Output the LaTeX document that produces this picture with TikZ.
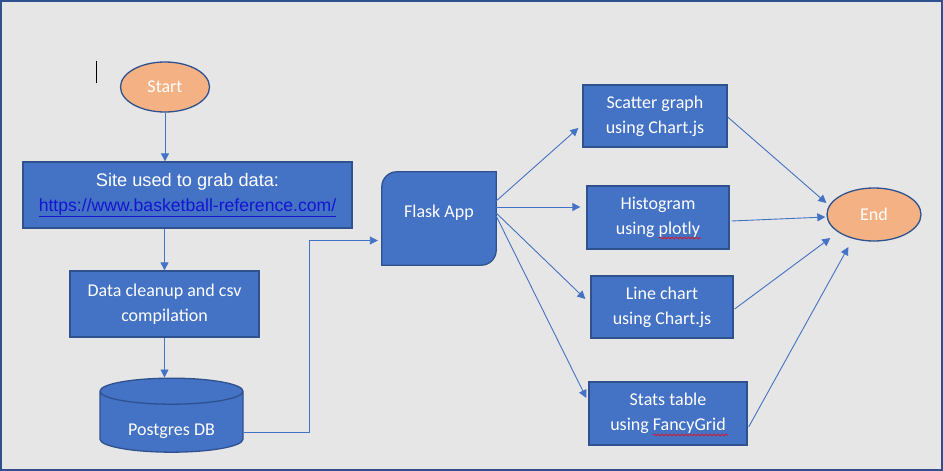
\documentclass[tikz,border=0pt]{standalone}
\usepackage{fontspec}
\setmainfont{Carlito}
\newfontfamily\arialfont{Liberation Sans}
\usetikzlibrary{shapes.geometric,arrows.meta,decorations.pathmorphing}

\definecolor{boxblue}{HTML}{4472C4}
\definecolor{darkblue}{HTML}{2F528F}
\definecolor{termorange}{HTML}{F4B183}
\definecolor{paper}{HTML}{E6E6E6}
\definecolor{linkblue}{RGB}{20,20,210}

\begin{document}
\begin{tikzpicture}[x=1pt,y=-1pt,>={Triangle[length=8pt,width=8pt]}]
	\tikzstyle{box}=[rectangle,draw=darkblue,line width=1.3pt,fill=boxblue,text=white,align=center,inner sep=0pt,font=\fontsize{18}{25}\selectfont]
	\tikzstyle{term}=[ellipse,draw=darkblue,line width=1.3pt,fill=termorange,text=white,inner sep=0pt,font=\fontsize{18}{22}\selectfont]
	\tikzstyle{edge}=[draw=boxblue, line width=0.9pt]
	\tikzstyle{squig}=[draw=red,line width=0.6pt,decorate,decoration={snake,amplitude=1pt,segment length=4pt}]

	\useasboundingbox (0,0) rectangle (943,471);
	\draw[darkblue,line width=2pt,fill=paper] (1,1) rectangle (942,470);
	\draw[black,line width=1pt] (96,61) -- (96,83);

	 \node [term,minimum width=89,minimum height=50] (start) at (165,87) {Start};
	 \node [box,minimum width=329,minimum height=66] (site) at (187.5,195) {{\arialfont\fontsize{18.2}{23}\selectfont Site used to grab data:}\\{\arialfont\fontsize{17.6}{23}\selectfont\color{linkblue}\underline{https://www.basketball-reference.com/}}};
	 \node [box,minimum width=189,minimum height=66] (clean) at (164.5,304) {Data cleanup and csv\\compilation};
	 \node [cylinder,shape border rotate=90,aspect=0.3,draw=darkblue,line width=1.3pt,fill=boxblue,text=white,minimum width=143,minimum height=74,inner sep=0pt,font=\fontsize{18}{22}\selectfont] (db) at (171.5,422) {\smash{\raisebox{-13pt}{Postgres DB}}};

	 \node [minimum width=114,minimum height=93] (flask) at (439,218.5) {};
	 \path[fill=boxblue,draw=darkblue,line width=1.3pt] ([xshift=15pt]flask.north west) -- (flask.north east) -- ([yshift=15pt]flask.south east) arc[start angle=0,end angle=-90,radius=15pt] -- (flask.south west) -- ([yshift=-15pt]flask.north west) arc[start angle=180,end angle=90,radius=15pt] -- cycle;
	 \node [text=white,font=\fontsize{18}{22}\selectfont] (flasklabel) at ([yshift=6pt]flask.center) {Flask App};

	 \node [box,minimum width=144,minimum height=62] (scatter) at (655,116) {Scatter graph\\using Chart.js};
	 \node [box,minimum width=142,minimum height=63] (hist) at (658,217.5) {Histogram\\using plotly};
	 \node [box,minimum width=142,minimum height=62] (line) at (662,307) {Line chart\\using Chart.js};
	 \node [box,minimum width=158,minimum height=63] (stats) at (668,413.5) {Stats table\\using FancyGrid};
	 \node [term,minimum width=94,minimum height=53] (end) at (874,214.5) {End};

	 % spell-check marks
	 \draw[squig] ([shift={(1pt,-20.5pt)}]hist.center) -- ++(42,0);
	 \draw[squig] ([shift={(-15pt,-21.5pt)}]stats.center) -- ++(75,0);

	 \path[edge,->] (start.south) -- (start.south |- site.north);
	 \path[edge,->] (clean.north |- site.south) -- (clean.north);
	 \path[edge,->] (clean.south) -- (clean.south |- db.north);
	 \path[edge,->] ([yshift=-10pt]db.east) -- ++(66,0) |- ([xshift=-4pt,yshift=-22pt]flask.west);

	 \path[edge,->] ([yshift=17.5pt]flask.east) -- ([shift={(-4pt,-12pt)}]scatter.west);
	 \path[edge,->] ([yshift=11.5pt]flask.east) -- ([shift={(-6pt,10.5pt)}]hist.west);
	 \path[edge,->] ([yshift=5.5pt]flask.east) -- ([shift={(-5pt,8pt)}]line.west);
	 \path[edge,->] ([yshift=2.5pt]flask.east) -- ([shift={(-2pt,15.5pt)}]stats.west);

	 \path[edge,->] ([yshift=-1pt]scatter.east) -- ([yshift=11.5pt]end.west);
	 \path[edge,->] ([shift={(2pt,-3.5pt)}]hist.east) -- ([shift={(-1pt,-2.5pt)}]end.west);
	 \path[edge,->] ([shift={(1pt,-2pt)}]line.east) -- ([shift={(4pt,-23.5pt)}]end.west);
	 \path[edge,->] ([shift={(1pt,-13.5pt)}]stats.east) -- ([shift={(22pt,-32.5pt)}]end.west);

\end{tikzpicture}
\end{document}
